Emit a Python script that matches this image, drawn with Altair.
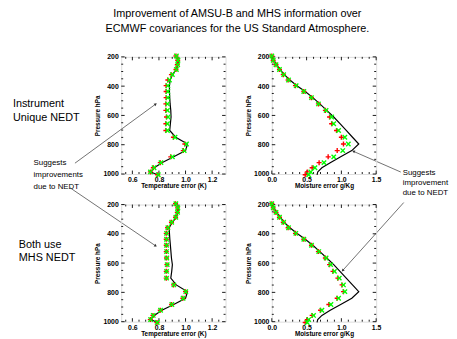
import altair as alt
import pandas as pd

# ---------------- data ----------------
levels = [194.36, 222.94, 253.71, 286.6, 321.5, 358.28, 396.81, 436.95, 478.54, 521.46,
          565.54, 610.6, 656.43, 702.73, 749.12, 795.09, 839.95, 882.8, 922.46, 957.44,
          985.88, 1005.43]

# Temperature error (K)
t_line_top = [0.933, 0.946, 0.943, 0.931, 0.901, 0.884, 0.879, 0.879, 0.881, 0.884, 0.889,
              0.891, 0.886, 0.881, 0.926, 1.015, 1.0, 0.911, 0.822, 0.765, 0.738, 0.79]
t_red_top = [0.928, 0.941, 0.938, 0.928, 0.894, 0.867, 0.854, 0.854, 0.854, 0.852, 0.852,
             0.857, 0.852, 0.852, 0.909, 0.995, 0.983, 0.889, 0.81, 0.758, 0.736, 0.79]
t_green_top = [0.931, 0.943, 0.941, 0.931, 0.901, 0.879, 0.867, 0.867, 0.867, 0.864, 0.864,
               0.869, 0.864, 0.864, 0.921, 1.007, 0.99, 0.901, 0.815, 0.763, 0.736, 0.795]

t_line_bot = [0.933, 0.946, 0.943, 0.931, 0.901, 0.877, 0.879, 0.882, 0.886, 0.89, 0.894,
              0.901, 0.896, 0.889, 0.93, 1.015, 1.0, 0.911, 0.822, 0.765, 0.738, 0.79]
t_red_bot = [0.925, 0.94, 0.938, 0.925, 0.894, 0.865, 0.855, 0.855, 0.855, 0.855, 0.857,
             0.86, 0.855, 0.855, 0.91, 1.0, 0.98, 0.895, 0.81, 0.755, 0.735, 0.785]
t_green_bot = [0.927, 0.942, 0.94, 0.927, 0.896, 0.867, 0.857, 0.857, 0.857, 0.857, 0.859,
               0.862, 0.857, 0.857, 0.912, 1.002, 0.982, 0.897, 0.812, 0.757, 0.737, 0.787]

# Moisture error (g/Kg)
m_line = [0.0, 0.03, 0.07, 0.12, 0.18, 0.26, 0.36, 0.48, 0.59, 0.69, 0.79, 0.89, 0.98,
          1.07, 1.16, 1.25, 1.15, 0.99, 0.84, 0.72, 0.66, 0.65]
m_red_top = [0.0, 0.02, 0.06, 0.11, 0.165, 0.235, 0.34, 0.46, 0.57, 0.67, 0.77, 0.83, 0.86,
             0.93, 1.0, 1.03, 0.94, 0.81, 0.68, 0.58, 0.51, 0.48]
m_green_top = [0.0, 0.02, 0.06, 0.11, 0.17, 0.24, 0.35, 0.46, 0.57, 0.67, 0.78, 0.86, 0.89,
               0.96, 1.05, 1.10, 1.02, 0.89, 0.75, 0.62, 0.56, 0.53]
m_red_bot = [0.0, 0.02, 0.06, 0.11, 0.165, 0.235, 0.34, 0.46, 0.57, 0.67, 0.77, 0.83, 0.88,
             0.95, 1.01, 1.03, 0.94, 0.82, 0.70, 0.58, 0.51, 0.48]
m_green_bot = [0.0, 0.02, 0.06, 0.11, 0.17, 0.24, 0.345, 0.46, 0.57, 0.675, 0.78, 0.845,
               0.90, 0.97, 1.03, 1.05, 0.96, 0.85, 0.72, 0.60, 0.53, 0.51]

# axes
p_major = [200, 400, 600, 800, 1000]
p_minor = [250, 300, 350, 450, 500, 550, 650, 700, 750, 850, 900, 950]
t_major = [0.6, 0.8, 1.0, 1.2]
t_minor = [0.55, 0.65, 0.7, 0.75, 0.85, 0.9, 0.95, 1.05, 1.1, 1.15, 1.25]
m_major = [0.0, 0.5, 1.0, 1.5]
m_minor = [0.1, 0.2, 0.3, 0.4, 0.6, 0.7, 0.8, 0.9, 1.1, 1.2, 1.3, 1.4]
t_domain = [0.516, 1.301]
m_domain = [0.0, 1.5]
p_domain = [200, 1000]

title_lines = ["Improvement of AMSU-B and MHS information over",
               "ECMWF covariances for the US Standard Atmosphere."]
left_top_label = ["Instrument", "Unique NEDT"]
left_bot_label = ["Both use", "MHS NEDT"]
left_note = ["Suggests", "improvements", "due to NEDT"]
right_note = ["Suggests", "improvement", "due to NEDT"]

FONT = "Liberation Sans"
W_T, W_M, H = 106, 106, 119
PLUS = "M-1,0L1,0M0,-1L0,1"
CROSS = "M-1,-1L1,1M-1,1L1,-1"
one = pd.DataFrame({"a": [0]})


def ticks(vals, ch, scale, axis, length, size_w):
    d = alt.Chart(pd.DataFrame({"v": vals}))
    out = []
    if ch == "x":
        enc = alt.X("v:Q", scale=scale, axis=axis)
        out.append(d.mark_rule(color="black", strokeWidth=0.9).encode(
            x=enc, y=alt.value(H), y2=alt.value(H - length)))
        out.append(d.mark_rule(color="black", strokeWidth=0.9).encode(
            x=enc, y=alt.value(0), y2=alt.value(length)))
    else:
        enc = alt.Y("v:Q", scale=scale, axis=axis)
        out.append(d.mark_rule(color="black", strokeWidth=0.9).encode(
            y=enc, x=alt.value(0), x2=alt.value(length)))
        out.append(d.mark_rule(color="black", strokeWidth=0.9).encode(
            y=enc, x=alt.value(size_w), x2=alt.value(size_w - length)))
    return out


def panel(line, red, green, xdom, xmaj, xmin, xtitle, w, extra=()):
    df = pd.DataFrame({"p": levels, "line": line, "red": red, "green": green})
    xs = alt.Scale(domain=xdom, nice=False, zero=False)
    ys = alt.Scale(domain=p_domain, reverse=True, nice=False, zero=False)
    xaxis = alt.Axis(values=xmaj, format=".1f", title=xtitle, ticks=False, domain=False,
                     grid=False, labelFont=FONT, labelFontSize=7, labelFontWeight="bold",
                     labelPadding=2, titleFont=FONT, titleFontSize=6.5,
                     titleFontWeight="bold", titlePadding=0, labelFlush=False)
    yaxis = alt.Axis(values=p_major, format="d", title="Pressure hPa", ticks=False,
                     domain=False, grid=False, labelFont=FONT, labelFontSize=7,
                     labelFontWeight="bold", labelPadding=3, titleFont=FONT,
                     titleFontSize=6.5, titleFontWeight="bold", titlePadding=2,
                     labelFlush=False)
    base = alt.Chart(df)
    layers = []
    layers += ticks(xmaj, "x", xs, xaxis, 3.5, w)
    layers += ticks(xmin, "x", xs, xaxis, 2, w)
    layers += ticks(p_major, "y", ys, yaxis, 3.5, w)
    layers += ticks(p_minor, "y", ys, yaxis, 2, w)
    layers.append(base.mark_line(color="black", strokeWidth=1.2).encode(
        x=alt.X("line:Q", scale=xs, axis=xaxis),
        y=alt.Y("p:Q", scale=ys, axis=yaxis), order="p:Q"))
    layers.append(base.mark_point(shape=PLUS, filled=False, color="#ff0000",
                                  strokeWidth=1.4, size=26, opacity=1).encode(
        x=alt.X("red:Q", scale=xs, axis=xaxis), y=alt.Y("p:Q", scale=ys, axis=yaxis)))
    layers.append(base.mark_point(shape=CROSS, filled=False, color="#00ff00",
                                  strokeWidth=1.4, size=20, opacity=1).encode(
        x=alt.X("green:Q", scale=xs, axis=xaxis), y=alt.Y("p:Q", scale=ys, axis=yaxis)))
    layers += list(extra)
    return alt.layer(*layers).properties(width=w, height=H)


def txt(s, x, y, size, align="left"):
    return alt.Chart(one).mark_text(font=FONT, fontSize=size, align=align,
                                    baseline="middle", color="black").encode(
        x=alt.value(x), y=alt.value(y), text=alt.value(s))


def arrow(x1, y1, x2, y2, ang):
    r = alt.Chart(one).mark_rule(color="#333333", strokeWidth=0.7).encode(
        x=alt.value(x1), y=alt.value(y1), x2=alt.value(x2), y2=alt.value(y2))
    h = alt.Chart(one).mark_point(shape="triangle-up", filled=True, color="#333333",
                                  size=10, angle=ang, opacity=1).encode(
        x=alt.value(x2), y=alt.value(y2))
    return [r, h]


annots = [
    txt(title_lines[0], 118, -43, 11, "center"),
    txt(title_lines[1], 118, -28, 11, "center"),
    txt(left_top_label[0], -110, 48, 11),
    txt(left_top_label[1], -110, 62, 11),
    txt(left_note[0], -89, 108, 8),
    txt(left_note[1], -89, 120, 8),
    txt(left_note[2], -89, 132, 8),
    txt(left_bot_label[0], -104, 191, 11),
    txt(left_bot_label[1], -104, 204, 11),
    txt(right_note[0], 286, 118, 8),
    txt(right_note[1], 286, 128, 8),
    txt(right_note[2], 286, 138, 8),
]
annots += arrow(-47, 108, 35, 48, 54)
annots += arrow(-52, 133, 35, 192, 124)
annots += arrow(284, 117, 236, 96, 294)
annots += arrow(287, 148, 225, 217, 222)

tl = panel(t_line_top, t_red_top, t_green_top, t_domain, t_major, t_minor,
           "Temperature error (K)", W_T, annots)
tr = panel(m_line, m_red_top, m_green_top, m_domain, m_major, m_minor,
           "Moisture error  g/Kg", W_M)
bl = panel(t_line_bot, t_red_bot, t_green_bot, t_domain, t_major, t_minor,
           "Temperature error (K)", W_T)
br = panel(m_line, m_red_bot, m_green_bot, m_domain, m_major, m_minor,
           "Moisture error  g/Kg", W_M)

chart = alt.concat(tl, tr, bl, br, columns=2, spacing={"row": 31, "column": 47},
                   bounds="flush").properties(
    padding={"left": 4, "top": -3, "right": 0, "bottom": 0}
).configure_view(stroke="black", strokeWidth=1).configure(background="white")

chart.save("out.html", embed_options={"renderer": "svg", "actions": False})
